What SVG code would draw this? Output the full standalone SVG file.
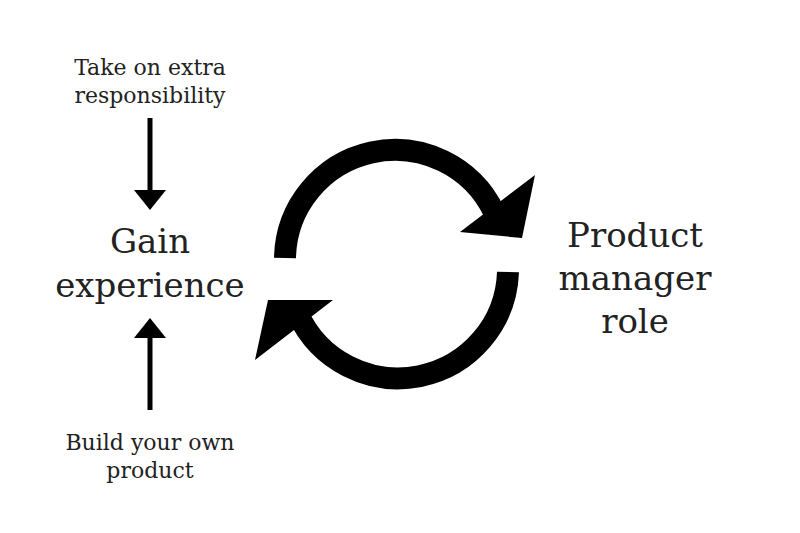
<svg xmlns="http://www.w3.org/2000/svg" width="800" height="533" viewBox="0 0 800 533">
<style>
text{font-family:"DejaVu Serif","Liberation Serif",serif;fill:#222;text-anchor:middle;font-weight:300}
.s{font-size:22px}.b{font-size:34px}
.arc{fill:none;stroke:#000;stroke-width:22}
</style>
<rect width="800" height="533" fill="#fff"/>
<g id="take"><text class="s" x="150" y="75">Take on extra</text><text class="s" x="150" y="103">responsibility</text></g>
<g id="gain"><text class="b" x="150" y="253">Gain</text><text class="b" x="150" y="297">experience</text></g>
<g id="build"><text class="s" x="150" y="450">Build your own</text><text class="s" x="150" y="478">product</text></g>
<g id="pm"><text class="b" x="635" y="247">Product</text><text class="b" x="635" y="290">manager</text><text class="b" x="635" y="333">role</text></g>
<g id="connectors">
<line x1="150" y1="118" x2="150" y2="192" stroke="#000" stroke-width="5"/>
<polygon points="134,190 166,190 150,210" fill="#000"/>
<line x1="150" y1="410" x2="150" y2="336" stroke="#000" stroke-width="5"/>
<polygon points="134,338 166,338 150,318" fill="#000"/>
<path class="arc" d="M285,258 A110,110 0 0 1 494,212"/>
<polygon points="460,232 535,175 522,238" fill="#000"/>
<path class="arc" d="M508,272 A110,110 0 0 1 298,314"/>
<polygon points="255,360 268,300 333,300" fill="#000"/>
</g>
</svg>
